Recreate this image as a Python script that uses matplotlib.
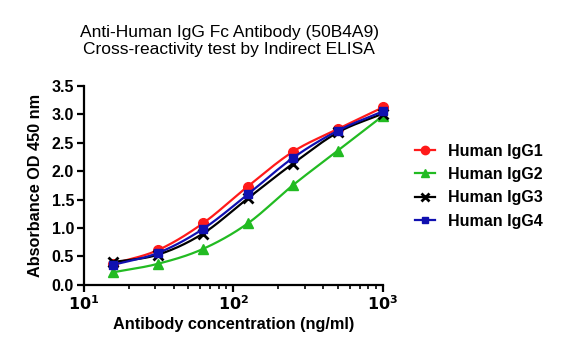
import numpy as np
import matplotlib
matplotlib.use("Agg")
import matplotlib.pyplot as plt
from matplotlib.ticker import LogLocator, FixedLocator

plt.rcParams['font.family'] = ['Liberation Sans', 'DejaVu Sans']

conc = [15.625, 31.25, 62.5, 125, 250, 500, 1000]
igg1 = [0.37, 0.61, 1.08, 1.73, 2.34, 2.74, 3.12]
igg2 = [0.22, 0.37, 0.63, 1.08, 1.75, 2.36, 2.97]
igg3 = [0.40, 0.53, 0.90, 1.52, 2.13, 2.68, 3.01]
igg4 = [0.35, 0.56, 0.98, 1.59, 2.23, 2.71, 3.05]
labels = ["Human IgG1", "Human IgG2", "Human IgG3", "Human IgG4"]

def smooth(x, y, n=30):
    lx = np.log10(x); y = np.asarray(y, float)
    # Catmull-Rom spline in log-x space for drawing a smooth line
    px = np.concatenate([[2*lx[0]-lx[1]], lx, [2*lx[-1]-lx[-2]]])
    py = np.concatenate([[2*y[0]-y[1]], y, [2*y[-1]-y[-2]]])
    xs, ys = [], []
    t = np.linspace(0, 1, n)
    for i in range(1, len(px)-2):
        for arr, out in ((px, xs), (py, ys)):
            p0, p1, p2, p3 = arr[i-1], arr[i], arr[i+1], arr[i+2]
            out.extend(0.5*((2*p1) + (-p0+p2)*t + (2*p0-5*p1+4*p2-p3)*t**2 + (-p0+3*p1-3*p2+p3)*t**3))
    return 10**np.array(xs), np.array(ys)

fig = plt.figure(figsize=(5.62, 3.42), dpi=100)
ax = fig.add_axes([0.149, 0.167, 0.532, 0.582])

styles = [
    dict(color='#ff1a1a', marker='o', ms=7),
    dict(color='#22bb22', marker='^', ms=6.5),
    dict(color='#000000', marker='x', ms=6.5, mew=2),
    dict(color='#1010b0', marker='s', ms=5.5),
]
series = [igg1, igg2, igg3, igg4]
order = [1, 2, 3, 0]
for i in order:
    s = styles[i]
    xs, ys = smooth(conc, series[i])
    ax.plot(xs, ys, color=s['color'], lw=1.6, zorder=2+i, clip_on=False)
    ax.plot(conc, series[i], linestyle='none', marker=s['marker'], color=s['color'],
            ms=s['ms'], mew=s.get('mew', 1), zorder=3+i, clip_on=False)

handles = []
for i in range(4):
    s = styles[i]
    h, = ax.plot([], [], color=s['color'], marker=s['marker'], ms=s['ms']-1, mew=s.get('mew', 1), lw=1.6)
    handles.append(h)
leg = fig.legend(handles, labels, loc='upper left', bbox_to_anchor=(0.712, 0.622),
                 frameon=False, prop=dict(weight='bold', size=11.5), handlelength=1.3,
                 labelspacing=0.52, handletextpad=0.8)

ax.set_xscale('log')
ax.set_xlim(10, 1000)
ax.set_ylim(0, 3.5)
ax.set_yticks(np.arange(0, 3.51, 0.5))
ax.set_yticklabels([f"{v:.1f}" for v in np.arange(0, 3.51, 0.5)])
ax.xaxis.set_major_locator(FixedLocator([10, 100, 1000]))
ax.set_xticklabels([r"$\mathbf{10^1}$", r"$\mathbf{10^2}$", r"$\mathbf{10^3}$"])
ax.xaxis.set_minor_locator(LogLocator(base=10, subs=np.arange(2, 10)))
for sp in ['top', 'right']:
    ax.spines[sp].set_visible(False)
for sp in ['left', 'bottom']:
    ax.spines[sp].set_linewidth(1.6)
ax.tick_params(axis='both', which='major', direction='out', length=5, width=1.6, labelsize=11.5, pad=2)
ax.tick_params(axis='x', which='minor', direction='out', length=3, width=1.2)
for lab in ax.get_yticklabels():
    lab.set_fontweight('bold')

ax.set_xlabel("Antibody concentration (ng/ml)", fontsize=11.7, fontweight='bold', labelpad=3)
ax.set_ylabel("Absorbance OD 450 nm", fontsize=11.7, fontweight='bold', labelpad=6)
fig.text(0.408, 0.832, "Anti-Human IgG Fc Antibody (50B4A9)\nCross-reactivity test by Indirect ELISA",
         ha='center', va='bottom', fontsize=12.5, linespacing=1.2)

fig.savefig("out.png", dpi=100)
